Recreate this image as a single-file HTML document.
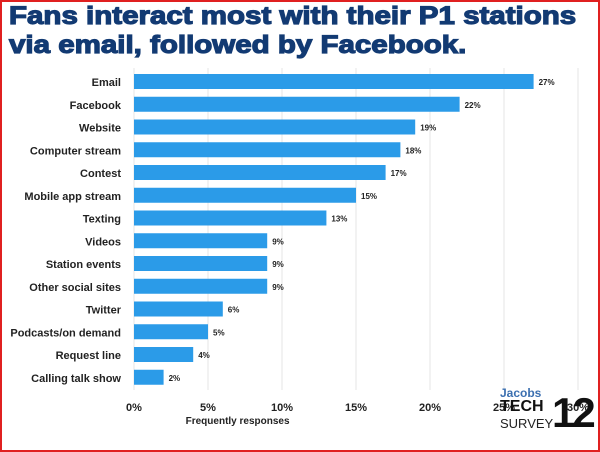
<!DOCTYPE html>
<html><head><meta charset="utf-8"><style>
body{margin:0;width:600px;height:452px;overflow:hidden;background:#fff;font-family:"Liberation Sans",sans-serif}
#frame{position:absolute;left:0;top:0;width:596px;height:448px;border:2px solid #e02020}
#title{position:absolute;left:9px;top:2px;font-size:25px;font-weight:bold;color:#123a73;line-height:29px;-webkit-text-stroke:1.2px #123a73;transform:scaleX(1.18);transform-origin:0 0;white-space:nowrap}
</style></head><body>
<div id="frame"></div>
<div id="title">Fans interact most with their P1 stations<br>via email, followed by Facebook.</div>
<svg id="chart" width="600" height="452" style="position:absolute;left:0;top:0"></svg>
<div style="position:absolute;left:500px;top:386px;width:95px;height:62px">
<div style="position:absolute;left:0;top:0;font-size:12px;font-weight:bold;color:#3b6fb0">Jacobs</div>
<div style="position:absolute;left:0;top:12px;font-size:16px;font-weight:bold;color:#111">TECH</div>
<div style="position:absolute;left:0;top:30px;font-size:13px;color:#222">SURVEY</div>
<div style="position:absolute;left:52px;top:2px;font-size:42px;font-weight:bold;color:#111;line-height:50px;letter-spacing:-3px">12</div>
</div>
<script>
const categories=["Email","Facebook","Website","Computer stream","Contest","Mobile app stream","Texting","Videos","Station events","Other social sites","Twitter","Podcasts/on demand","Request line","Calling talk show"];
const values=[27,22,19,18,17,15,13,9,9,9,6,5,4,2];
const ticks=[0,5,10,15,20,25,30];
const svg=document.getElementById('chart');const NS='http://www.w3.org/2000/svg';
const x0=134,pxPer=14.8,y0=74,pitch=22.75,bh=15;
const x=v=>x0+v*pxPer;
function mk(t,a){const e=document.createElementNS(NS,t);for(const k in a)e.setAttribute(k,a[k]);svg.appendChild(e);return e;}
ticks.forEach(t=>{
const g=mk('line',{x1:x(t),x2:x(t),y1:68,y2:390,stroke:'#e4e4e4','stroke-width':1});


const l=mk('text',{x:x(t),y:411,'text-anchor':'middle','font-size':11,'font-weight':'bold',fill:'#222'});
l.textContent=t+'%';


});
categories.forEach((c,i)=>{
const y=y0+i*pitch;
const r=mk('rect',{x:x0,y:y,width:x(values[i])-x0,height:bh,fill:'#2b9be8'});


const t=mk('text',{x:121,y:y+12,'text-anchor':'end','font-size':11,'font-weight':'bold',fill:'#222'});
t.textContent=c;


const v=mk('text',{x:x(values[i])+5,y:y+11,'font-size':8,'font-weight':'bold',fill:'#222'});
v.textContent=values[i]+'%';


});
const at=mk('text',{x:x(7),y:424,'text-anchor':'middle','font-size':10,'font-weight':'bold',fill:'#222'});
at.textContent='Frequently responses';


</script>
</body></html>
